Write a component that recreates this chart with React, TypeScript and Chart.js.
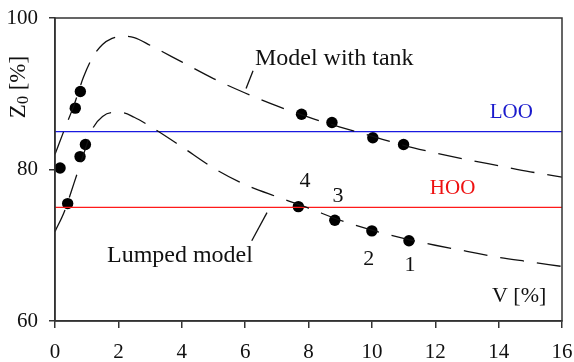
import React, { useEffect, useRef } from "react";
import { Chart, registerables } from "chart.js";

Chart.register(...registerables);

// ---- data ----
const tankCurveX = [0, 0.3, 0.6, 0.9, 1.2, 1.5, 1.8, 2.1, 2.5, 3, 4, 5, 6, 7, 8, 9, 10, 11, 12, 13, 14, 15, 16];
const tankCurveY = [82, 85.3, 88.5, 92.2, 94.9, 96.5, 97.3, 97.6, 97.4, 96.4, 94.2, 92.0, 90.1, 88.4, 86.9, 85.6, 84.4, 83.2, 82.2, 81.3, 80.5, 79.7, 79.0];
const lumpedCurveX = [0, 0.3, 0.6, 0.9, 1.2, 1.5, 1.8, 2.1, 2.5, 3, 4, 5, 6, 7, 8, 9, 10, 11, 12, 13, 14, 15, 16];
const lumpedCurveY = [71.8, 74.5, 78.2, 82.0, 85.5, 87.0, 87.5, 87.5, 86.9, 85.7, 83.0, 80.2, 78.0, 76.4, 74.9, 73.3, 72.0, 70.9, 70.0, 69.2, 68.4, 67.8, 67.2];
const tankPointsX = [0.16, 0.64, 0.8, 7.78, 8.74, 10.03, 11.0];
const tankPointsY = [80.2, 88.1, 90.3, 87.3, 86.2, 84.2, 83.3];
const lumpedPointsX = [0.4, 0.79, 0.96, 7.68, 8.83, 10.0, 11.17];
const lumpedPointsY = [75.5, 81.7, 83.3, 75.1, 73.3, 71.9, 70.6];
const looLevel = 85;
const hooLevel = 75;
const xTicks = [0, 2, 4, 6, 8, 10, 12, 14, 16];
const yTicks = [60, 80, 100];

// ---- annotation placement (data coordinates) ----
const texts = [
  { t: "Model with tank", x: 6.31, y: 94.6, color: "#111", size: 24, align: "left" },
  { t: "Lumped model", x: 1.64, y: 68.6, color: "#111", size: 24, align: "left" },
  { t: "LOO", x: 13.72, y: 87.5, color: "#1a1acc", size: 21, align: "left" },
  { t: "HOO", x: 11.83, y: 77.45, color: "#ee1111", size: 21, align: "left" },
  { t: "4", x: 7.89, y: 78.4, color: "#111", size: 22, align: "center" },
  { t: "3", x: 8.93, y: 76.5, color: "#111", size: 22, align: "center" },
  { t: "2", x: 9.9, y: 68.2, color: "#111", size: 22, align: "center" },
  { t: "1", x: 11.2, y: 67.3, color: "#111", size: 22, align: "center" },
  { t: "V [%]", x: 13.79, y: 63.3, color: "#111", size: 22, align: "left" },
];
const leaders = [
  { x1: 6.25, y1: 93.05, x2: 6.03, y2: 90.7 },
  { x1: 6.21, y1: 70.6, x2: 6.69, y2: 74.3 },
];

const FONT = "'Liberation Serif', 'DejaVu Serif', serif";

const zip = (xs: number[], ys: number[]) => xs.map((x, i) => ({ x, y: ys[i] }));

const decorPlugin = {
  id: "decor",
  afterDatasetsDraw(chart: any) {
    const { ctx, chartArea: a, scales } = chart;
    const xs = scales.x, ys = scales.y;
    ctx.save();
    // frame
    ctx.strokeStyle = "#333";
    ctx.lineWidth = 1.5;
    ctx.strokeRect(a.left, a.top, a.right - a.left, a.bottom - a.top);
    // leaders
    ctx.strokeStyle = "#111";
    ctx.lineWidth = 1.3;
    for (const l of leaders) {
      ctx.beginPath();
      ctx.moveTo(xs.getPixelForValue(l.x1), ys.getPixelForValue(l.y1));
      ctx.lineTo(xs.getPixelForValue(l.x2), ys.getPixelForValue(l.y2));
      ctx.stroke();
    }
    // texts
    ctx.textBaseline = "middle";
    for (const t of texts) {
      ctx.font = `${t.size}px ${FONT}`;
      ctx.fillStyle = t.color;
      ctx.textAlign = t.align as CanvasTextAlign;
      ctx.fillText(t.t, xs.getPixelForValue(t.x), ys.getPixelForValue(t.y));
    }
    // y title Z0 [%]
    ctx.translate(19, 87);
    ctx.rotate(-Math.PI / 2);
    ctx.fillStyle = "#111";
    ctx.textAlign = "left";
    ctx.textBaseline = "middle";
    const big = `23px ${FONT}`;
    const small = `16px ${FONT}`;
    ctx.font = big;
    const wZ = ctx.measureText("Z").width;
    ctx.font = small;
    const w0 = ctx.measureText("0").width;
    ctx.font = big;
    const wR = ctx.measureText(" [%]").width;
    const total = wZ + w0 + wR;
    let cx = -total / 2;
    ctx.font = big;
    ctx.fillText("Z", cx, 0);
    cx += wZ;
    ctx.font = small;
    ctx.fillText("0", cx, 5);
    cx += w0;
    ctx.font = big;
    ctx.fillText(" [%]", cx, 0);
    ctx.restore();
  },
};

export default function App() {
  const ref = useRef<HTMLCanvasElement>(null);
  useEffect(() => {
    if (!ref.current) return;
    const dash = {
      showLine: true,
      borderColor: "#111",
      borderWidth: 1.3,
      borderDash: [24, 13],
      pointRadius: 0,
      cubicInterpolationMode: "monotone" as const,
      fill: false,
    };
    const chart = new Chart(ref.current, {
      type: "scatter",
      data: {
        datasets: [
          { ...dash, data: zip(tankCurveX, tankCurveY) },
          { ...dash, data: zip(lumpedCurveX, lumpedCurveY) },
          { showLine: true, borderColor: "#1a1ae0", borderWidth: 1.4, pointRadius: 0, data: [{ x: 0, y: looLevel }, { x: 16, y: looLevel }] },
          { showLine: true, borderColor: "#ff1a1a", borderWidth: 1.4, pointRadius: 0, data: [{ x: 0, y: hooLevel }, { x: 16, y: hooLevel }] },
          { data: zip(tankPointsX, tankPointsY), pointRadius: 5.7, backgroundColor: "#000", borderColor: "#000", pointBorderWidth: 0 },
          { data: zip(lumpedPointsX, lumpedPointsY), pointRadius: 5.7, backgroundColor: "#000", borderColor: "#000", pointBorderWidth: 0 },
        ] as any,
      },
      options: {
        animation: false,
        responsive: false,
        layout: { padding: { top: 18, right: 12, left: 0, bottom: 0 } },
        plugins: { legend: { display: false }, tooltip: { enabled: false } },
        scales: {
          x: {
            type: "linear",
            min: 0,
            max: 16,
            afterFit: (s: any) => { s.height = 41; s.paddingLeft = 0; s.paddingRight = 0; },
            afterBuildTicks: (s: any) => { s.ticks = xTicks.map((v) => ({ value: v })); },
            grid: { display: true, drawOnChartArea: false, drawTicks: true, tickLength: 7, color: "#333", lineWidth: 1.5 },
            border: { display: true, color: "#333", width: 1.5 },
            ticks: { color: "#111", font: { family: FONT, size: 21 }, padding: 12, maxRotation: 0 },
          },
          y: {
            type: "linear",
            min: 60,
            max: 100,
            afterFit: (s: any) => { s.width = 55; s.paddingTop = 0; s.paddingBottom = 0; },
            afterBuildTicks: (s: any) => { s.ticks = yTicks.map((v) => ({ value: v })); },
            grid: { display: true, drawOnChartArea: false, drawTicks: true, tickLength: 6, color: "#333", lineWidth: 1.5 },
            border: { display: true, color: "#333", width: 1.5 },
            ticks: { color: "#111", font: { family: FONT, size: 21 }, padding: 11 },
          },
        },
      },
      plugins: [decorPlugin],
    });
    return () => chart.destroy();
  }, []);
  return (
    <div style={{ position: "fixed", left: 0, top: 0, width: 574, height: 362, background: "#fff" }}>
      <canvas ref={ref} width={574} height={362} style={{ display: "block" }} />
    </div>
  );
}
